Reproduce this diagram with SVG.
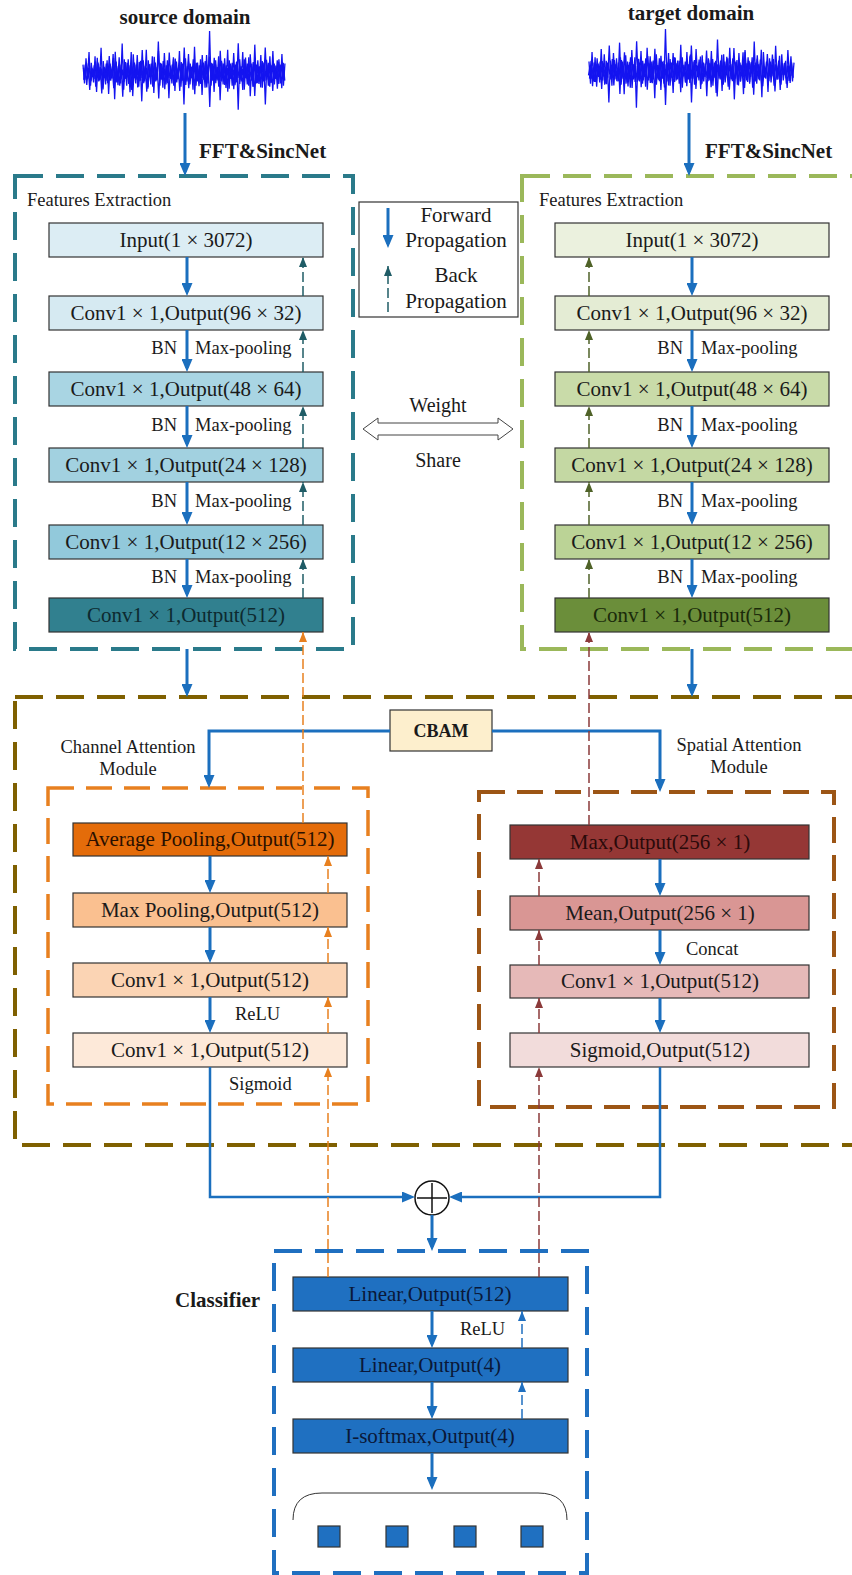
<svg xmlns="http://www.w3.org/2000/svg" xmlns:xlink="http://www.w3.org/1999/xlink" width="852" height="1575" viewBox="0 0 852 1575">
<style>
text{font-family:"Liberation Serif","Times New Roman",serif;fill:#1a1a1a}
.bx{font-size:21px;text-anchor:middle}
.lb{font-size:18.5px}
.bold{font-weight:bold;font-size:21px}
.node{stroke:#333;stroke-width:1.2}
.fwd{stroke:#1b6fbe;stroke-width:3;fill:none;marker-end:url(#af)}
.fwd2{stroke:#1b6fbe;stroke-width:2.5;fill:none}
.bk{stroke-width:1.5;fill:none;stroke-dasharray:10 4}
.grp{fill:none;stroke-width:4;stroke-dasharray:28 13}
</style>
<defs>
<marker id="af" viewBox="0 0 13 11" refX="9" refY="5.5" markerWidth="13" markerHeight="11" markerUnits="userSpaceOnUse" orient="auto"><path d="M0,0 L13,5.5 L0,11 z" fill="#1b6fbe"/></marker>
<marker id="bteal" viewBox="0 0 10 8" refX="10" refY="4" markerWidth="10" markerHeight="8" markerUnits="userSpaceOnUse" orient="auto"><path d="M0,0 L10,4 L0,8 z" fill="#1f5c66"/></marker>
<marker id="bolive" viewBox="0 0 10 8" refX="10" refY="4" markerWidth="10" markerHeight="8" markerUnits="userSpaceOnUse" orient="auto"><path d="M0,0 L10,4 L0,8 z" fill="#4f6228"/></marker>
<marker id="borange" viewBox="0 0 10 8" refX="10" refY="4" markerWidth="10" markerHeight="8" markerUnits="userSpaceOnUse" orient="auto"><path d="M0,0 L10,4 L0,8 z" fill="#e8801f"/></marker>
<marker id="bbrown" viewBox="0 0 10 8" refX="10" refY="4" markerWidth="10" markerHeight="8" markerUnits="userSpaceOnUse" orient="auto"><path d="M0,0 L10,4 L0,8 z" fill="#8b3a3a"/></marker>
<marker id="bblue" viewBox="0 0 10 8" refX="10" refY="4" markerWidth="10" markerHeight="8" markerUnits="userSpaceOnUse" orient="auto"><path d="M0,0 L10,4 L0,8 z" fill="#1f6fc0"/></marker>
<polyline id="wave" fill="none" stroke="#1414f0" stroke-width="1.3" vector-effect="non-scaling-stroke" points="0,-8 1,10 2,-14 3,6 4,-20 5,12 6,-5 7,9 8,-16 9,18 10,-10 11,7 12,-24 13,14 14,-6 15,11 16,-12 17,20 18,-9 19,5 20,-18 21,25 22,-11 23,8 24,-15 25,10 26,-28 27,16 28,-7 29,12 30,-13 31,9 32,-20 33,22 34,-6 35,10 36,-17 37,13 38,-9 39,27 40,-12 41,8 42,-22 43,15 44,-5 45,11 46,-16 47,19 48,-10 49,7 50,-30 51,12 52,-8 53,14 54,-19 55,9 56,-12 57,24 58,-7 59,10 60,-15 61,17 62,-11 63,6 64,-21 65,13 66,-9 67,30 68,-14 69,8 70,-18 71,11 72,-6 73,16 74,-25 75,12 76,-10 77,9 78,-13 79,21 80,-8 81,14 82,-17 83,10 84,-40 85,12 86,-9 87,18 88,-12 89,7 90,-16 91,26 92,-10 93,11 94,-14 95,9 96,-22 97,15 98,-7 99,12 100,-19 101,10 102,-11 103,35 104,-13 105,8 106,-20 107,16 108,-6 109,11 110,-15 111,22 112,-9 113,13 114,-27 115,10 116,-12 117,8 118,-17 119,14 120,-10 121,30 122,-8 123,12 124,-16 125,9 126,-21 127,11 128,-7 129,15 130,-13 131,10 132,-18 133,12 134,-9"/>
</defs>
<rect width="852" height="1575" fill="#fff"/>

<!-- signals -->
<g id="source-signal">
<text x="185" y="24" class="bold" text-anchor="middle">source domain</text>
<use href="#wave" transform="translate(83,73) scale(1.507,1.05)"/>
<use href="#wave" transform="translate(83.75,73) scale(1.5,-0.85)"/>
<use href="#wave" transform="translate(284.5,73) scale(-1.5,0.55)"/>
<text x="199" y="158" class="bold">FFT&amp;SincNet</text>
</g>
<g id="target-signal">
<text x="691" y="20" class="bold" text-anchor="middle">target domain</text>
<use href="#wave" transform="translate(794,71) scale(-1.53,1.05)"/>
<use href="#wave" transform="translate(793.2,71) scale(-1.52,-0.85)"/>
<use href="#wave" transform="translate(588.5,71) scale(1.52,-0.55)"/>
<text x="705" y="158" class="bold">FFT&amp;SincNet</text>
</g>

<!-- group frames -->
<g id="source-features">
<rect x="15" y="176" width="338" height="473" class="grp" stroke="#2a7a8a"/>
<text x="27" y="206" class="lb">Features Extraction</text>
<g id="s-input"><rect x="49" y="223" width="274" height="34" class="node" fill="#dcedf4"/><text x="186" y="247" class="bx">Input(1 × 3072)</text></g>
<g id="s-conv1"><rect x="49" y="296" width="274" height="34" class="node" fill="#d6eaf2"/><text x="186" y="320" class="bx">Conv1 × 1,Output(96 × 32)</text></g>
<g id="s-conv2"><rect x="49" y="372" width="274" height="34" class="node" fill="#a9d5e3"/><text x="186" y="396" class="bx">Conv1 × 1,Output(48 × 64)</text></g>
<g id="s-conv3"><rect x="49" y="448" width="274" height="34" class="node" fill="#a2d1e0"/><text x="186" y="472" class="bx">Conv1 × 1,Output(24 × 128)</text></g>
<g id="s-conv4"><rect x="49" y="525" width="274" height="34" class="node" fill="#92c9db"/><text x="186" y="549" class="bx">Conv1 × 1,Output(12 × 256)</text></g>
<g id="s-conv5"><rect x="49" y="598" width="274" height="34" class="node" fill="#31808f"/><text x="186" y="622" class="bx" style="fill:#0d2a30">Conv1 × 1,Output(512)</text></g>
</g>

<g id="target-features">
<rect x="522" y="176" width="360" height="473" class="grp" stroke="#9bb85a"/>
<text x="539" y="206" class="lb">Features Extraction</text>
<g id="t-input"><rect x="555" y="223" width="274" height="34" class="node" fill="#ebf1de"/><text x="692" y="247" class="bx">Input(1 × 3072)</text></g>
<g id="t-conv1"><rect x="555" y="296" width="274" height="34" class="node" fill="#e4ecd4"/><text x="692" y="320" class="bx">Conv1 × 1,Output(96 × 32)</text></g>
<g id="t-conv2"><rect x="555" y="372" width="274" height="34" class="node" fill="#c9dba9"/><text x="692" y="396" class="bx">Conv1 × 1,Output(48 × 64)</text></g>
<g id="t-conv3"><rect x="555" y="448" width="274" height="34" class="node" fill="#c4d8a3"/><text x="692" y="472" class="bx">Conv1 × 1,Output(24 × 128)</text></g>
<g id="t-conv4"><rect x="555" y="525" width="274" height="34" class="node" fill="#bbd396"/><text x="692" y="549" class="bx">Conv1 × 1,Output(12 × 256)</text></g>
<g id="t-conv5"><rect x="555" y="598" width="274" height="34" class="node" fill="#6b8e3a"/><text x="692" y="622" class="bx" style="fill:#1a2a0a">Conv1 × 1,Output(512)</text></g>
</g>

<g id="legend">
<rect x="359" y="202" width="159" height="115" fill="#fff" stroke="#333" stroke-width="1.2"/>
<text x="456" y="222" class="bx">Forward</text>
<text x="456" y="247" class="bx">Propagation</text>
<text x="456" y="282" class="bx">Back</text>
<text x="456" y="308" class="bx">Propagation</text>
</g>

<g id="weight-share">
<polygon points="363,429 378,418 378,423 498,423 498,418 513,429 498,440 498,435 378,435 378,440" fill="#fff" stroke="#444" stroke-width="1"/>
<text x="438" y="412" font-size="20" text-anchor="middle">Weight</text>
<text x="438" y="467" font-size="20" text-anchor="middle">Share</text>
</g>

<g id="cbam">
<rect x="15" y="697" width="880" height="448" class="grp" stroke="#7f6000"/>
<rect x="390" y="710" width="102" height="41" fill="#fdefcd" stroke="#333" stroke-width="1.2"/>
<text x="441" y="737" class="bold" style="font-size:18px" text-anchor="middle">CBAM</text>
<text x="128" y="753" class="lb" text-anchor="middle">Channel Attention</text>
<text x="128" y="775" class="lb" text-anchor="middle">Module</text>
<text x="739" y="751" class="lb" text-anchor="middle">Spatial Attention</text>
<text x="739" y="773" class="lb" text-anchor="middle">Module</text>
</g>

<g id="channel-attention">
<rect x="48" y="788" width="320" height="316" fill="none" stroke="#e8801f" stroke-width="3.5" stroke-dasharray="26 12"/>
<g id="c-avg"><rect x="73" y="823" width="274" height="33" class="node" fill="#e46c0a"/><text x="210" y="846" class="bx" style="fill:#2a1000">Average Pooling,Output(512)</text></g>
<g id="c-max"><rect x="73" y="893" width="274" height="34" class="node" fill="#fac090"/><text x="210" y="917" class="bx">Max Pooling,Output(512)</text></g>
<g id="c-conv1"><rect x="73" y="963" width="274" height="34" class="node" fill="#fbd4b4"/><text x="210" y="987" class="bx">Conv1 × 1,Output(512)</text></g>
<g id="c-conv2"><rect x="73" y="1033" width="274" height="34" class="node" fill="#fde9d9"/><text x="210" y="1057" class="bx">Conv1 × 1,Output(512)</text></g>
</g>

<g id="spatial-attention">
<rect x="479" y="792" width="355" height="315" fill="none" stroke="#9c5515" stroke-width="4" stroke-dasharray="26 12"/>
<g id="sp-max"><rect x="510" y="825" width="299" height="34" class="node" fill="#953735"/><text x="660" y="849" class="bx" style="fill:#2a0a0a">Max,Output(256 × 1)</text></g>
<g id="sp-mean"><rect x="510" y="896" width="299" height="34" class="node" fill="#d99694"/><text x="660" y="920" class="bx">Mean,Output(256 × 1)</text></g>
<g id="sp-conv"><rect x="510" y="965" width="299" height="33" class="node" fill="#e6b9b8"/><text x="660" y="988" class="bx">Conv1 × 1,Output(512)</text></g>
<g id="sp-sig"><rect x="510" y="1033" width="299" height="34" class="node" fill="#f2dcdb"/><text x="660" y="1057" class="bx">Sigmoid,Output(512)</text></g>
</g>

<g id="sum">
<circle cx="432" cy="1198" r="17" fill="#fff" stroke="#111" stroke-width="1.5"/>
<path d="M417,1198 H447 M432,1183 V1213" stroke="#111" stroke-width="1.5"/>
</g>

<g id="classifier">
<rect x="274" y="1251" width="313" height="322" class="grp" stroke="#1f6fc0"/>
<text x="175" y="1307" class="bold">Classifier</text>
<g id="cl-lin1"><rect x="293" y="1277" width="275" height="34" class="node" fill="#1f70c1"/><text x="430" y="1301" class="bx" style="fill:#0a1838">Linear,Output(512)</text></g>
<g id="cl-lin2"><rect x="293" y="1348" width="275" height="34" class="node" fill="#1f70c1"/><text x="430" y="1372" class="bx" style="fill:#0a1838">Linear,Output(4)</text></g>
<g id="cl-soft"><rect x="293" y="1419" width="275" height="34" class="node" fill="#1f70c1"/><text x="430" y="1443" class="bx" style="fill:#0a1838">I-softmax,Output(4)</text></g>
<g id="cl-out">
<path d="M293,1520 Q293,1493 322,1493 L538,1493 Q567,1493 567,1520" fill="none" stroke="#333" stroke-width="1"/>
<rect x="318" y="1526" width="22" height="21" class="node" fill="#1f70c1"/>
<rect x="386" y="1526" width="22" height="21" class="node" fill="#1f70c1"/>
<rect x="454" y="1526" width="22" height="21" class="node" fill="#1f70c1"/>
<rect x="521" y="1526" width="22" height="21" class="node" fill="#1f70c1"/>
</g>
</g>

<g id="labels">
<text x="177" y="354" class="lb" text-anchor="end">BN</text><text x="195" y="354" class="lb">Max-pooling</text>
<text x="177" y="431" class="lb" text-anchor="end">BN</text><text x="195" y="431" class="lb">Max-pooling</text>
<text x="177" y="507" class="lb" text-anchor="end">BN</text><text x="195" y="507" class="lb">Max-pooling</text>
<text x="177" y="583" class="lb" text-anchor="end">BN</text><text x="195" y="583" class="lb">Max-pooling</text>
<text x="683" y="354" class="lb" text-anchor="end">BN</text><text x="701" y="354" class="lb">Max-pooling</text>
<text x="683" y="431" class="lb" text-anchor="end">BN</text><text x="701" y="431" class="lb">Max-pooling</text>
<text x="683" y="507" class="lb" text-anchor="end">BN</text><text x="701" y="507" class="lb">Max-pooling</text>
<text x="683" y="583" class="lb" text-anchor="end">BN</text><text x="701" y="583" class="lb">Max-pooling</text>
<text x="235" y="1020" class="lb">ReLU</text>
<text x="229" y="1090" class="lb">Sigmoid</text>
<text x="686" y="955" class="lb">Concat</text>
<text x="460" y="1335" class="lb">ReLU</text>
</g>

<g id="connectors">
<path class="fwd" d="M185,113 V172"/>
<path class="fwd" d="M689,113 V172"/>
<path class="fwd" d="M388,208 V244"/>
<path class="bk" stroke="#1f5c66" stroke-width="2" d="M388,312 V266" marker-end="url(#bteal)"/>
<path class="fwd" d="M187,257 V292"/>
<path class="fwd" d="M187,330 V368"/>
<path class="fwd" d="M187,406 V444"/>
<path class="fwd" d="M187,482 V521"/>
<path class="fwd" d="M187,559 V594"/>
<path class="bk" stroke="#1f5c66" d="M303,296 V257" marker-end="url(#bteal)"/>
<path class="bk" stroke="#1f5c66" d="M303,372 V330" marker-end="url(#bteal)"/>
<path class="bk" stroke="#1f5c66" d="M303,448 V406" marker-end="url(#bteal)"/>
<path class="bk" stroke="#1f5c66" d="M303,525 V482" marker-end="url(#bteal)"/>
<path class="bk" stroke="#1f5c66" d="M303,598 V559" marker-end="url(#bteal)"/>
<path class="fwd" d="M692,257 V292"/>
<path class="fwd" d="M692,330 V368"/>
<path class="fwd" d="M692,406 V444"/>
<path class="fwd" d="M692,482 V521"/>
<path class="fwd" d="M692,559 V594"/>
<path class="bk" stroke="#4f6228" d="M589,296 V257" marker-end="url(#bolive)"/>
<path class="bk" stroke="#4f6228" d="M589,372 V330" marker-end="url(#bolive)"/>
<path class="bk" stroke="#4f6228" d="M589,448 V406" marker-end="url(#bolive)"/>
<path class="bk" stroke="#4f6228" d="M589,525 V482" marker-end="url(#bolive)"/>
<path class="bk" stroke="#4f6228" d="M589,598 V559" marker-end="url(#bolive)"/>
<path class="fwd" d="M187,649 V693"/>
<path class="fwd" d="M692,649 V693"/>
<path class="fwd" d="M390,731 H209 V784"/>
<path class="fwd" d="M492,731 H660 V788"/>
<path class="fwd" d="M210,856 V889"/>
<path class="fwd" d="M210,927 V959"/>
<path class="fwd" d="M210,997 V1029"/>
<path class="fwd" d="M660,859 V892"/>
<path class="fwd" d="M660,930 V961"/>
<path class="fwd" d="M660,998 V1029"/>
<path class="fwd2" d="M210,1067 V1197 H411" marker-end="url(#af)"/>
<path class="fwd2" d="M660,1067 V1197 H453" marker-end="url(#af)"/>
<path class="fwd" d="M432,1215 V1247"/>
<path class="bk" stroke="#e8801f" d="M328,893 V856" marker-end="url(#borange)"/>
<path class="bk" stroke="#e8801f" d="M328,963 V927" marker-end="url(#borange)"/>
<path class="bk" stroke="#e8801f" d="M328,1033 V997" marker-end="url(#borange)"/>
<path class="bk" stroke="#e8801f" d="M328,1277 V1067" marker-end="url(#borange)"/>
<path class="bk" stroke="#e8801f" d="M303,823 V632" marker-end="url(#borange)"/>
<path class="bk" stroke="#8b3a3a" d="M539,896 V859" marker-end="url(#bbrown)"/>
<path class="bk" stroke="#8b3a3a" d="M539,965 V930" marker-end="url(#bbrown)"/>
<path class="bk" stroke="#8b3a3a" d="M539,1033 V998" marker-end="url(#bbrown)"/>
<path class="bk" stroke="#8b3a3a" d="M539,1277 V1067" marker-end="url(#bbrown)"/>
<path class="bk" stroke="#8b3a3a" d="M589,825 V632" marker-end="url(#bbrown)"/>
<path class="fwd" d="M432,1311 V1344"/>
<path class="fwd" d="M432,1382 V1415"/>
<path class="fwd" d="M432,1453 V1486"/>
<path class="bk" stroke="#1f6fc0" d="M522,1348 V1311" marker-end="url(#bblue)"/>
<path class="bk" stroke="#1f6fc0" d="M522,1419 V1382" marker-end="url(#bblue)"/>
</g>
</svg>
